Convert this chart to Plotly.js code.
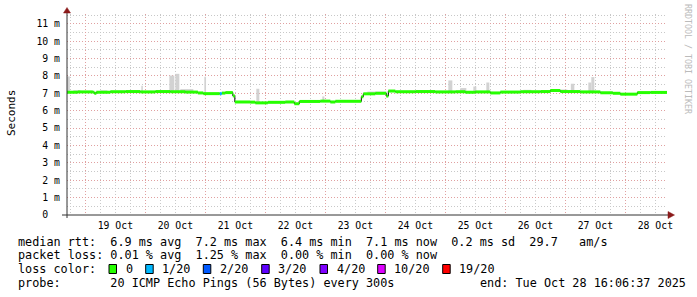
<!DOCTYPE html>
<html>
<head>
<meta charset="utf-8">
<script src="https://cdn.plot.ly/plotly-3.0.1.min.js"></script>
<style>html,body{margin:0;padding:0;background:#fff;}#chart{width:697px;height:297px;}</style>
</head>
<body>
<div id="chart"></div>
<script>
// ---------------- DATA ----------------
const rangeStart = "2025-10-18 16:40";
const rangeEnd = "2025-10-28 16:40";

// median RTT (ms), step function: value holds from time[i] to time[i+1]
const medTimes = [
  "2025-10-18 16:40","2025-10-18 21:00","2025-10-19 03:00","2025-10-19 03:36","2025-10-19 04:24",
  "2025-10-19 10:00","2025-10-19 16:00","2025-10-19 22:00","2025-10-20 04:00","2025-10-20 10:00",
  "2025-10-20 16:00","2025-10-20 21:00","2025-10-20 23:12","2025-10-21 05:48","2025-10-21 06:36",
  "2025-10-21 08:00","2025-10-21 11:00","2025-10-21 11:48","2025-10-21 18:00","2025-10-21 20:00",
  "2025-10-22 01:00","2025-10-22 08:00","2025-10-22 11:36","2025-10-22 13:36","2025-10-22 22:00",
  "2025-10-23 02:00","2025-10-23 04:00","2025-10-23 14:24","2025-10-23 15:12","2025-10-23 20:00",
  "2025-10-24 00:24","2025-10-24 01:12","2025-10-24 04:00","2025-10-24 12:00","2025-10-24 20:00",
  "2025-10-25 04:00","2025-10-25 08:00","2025-10-25 12:00","2025-10-25 18:00","2025-10-25 22:00",
  "2025-10-26 06:00","2025-10-26 14:00","2025-10-26 18:00","2025-10-26 22:00","2025-10-27 06:00",
  "2025-10-27 14:00","2025-10-27 19:00","2025-10-27 22:00","2025-10-28 04:48","2025-10-28 10:00",
  "2025-10-28 16:40"
];
const medVals = [
  7.06,7.08,7.06,7.00,7.06,
  7.09,7.10,7.08,7.10,7.09,
  7.07,7.02,6.98,6.98,7.01,
  7.04,6.85,6.50,6.49,6.45,
  6.48,6.50,6.40,6.53,6.55,
  6.50,6.54,6.80,6.97,7.00,
  6.84,7.13,7.09,7.10,7.08,
  7.09,7.06,7.08,7.02,7.07,
  7.09,7.10,7.16,7.10,7.08,
  7.03,7.00,6.95,7.04,7.05,
  7.05
];
// packet loss count (out of 20) for each step
const medLoss = [
  0,0,0,0,0, 0,0,0,0,0, 0,0,0,1,0, 0,0,0,0,0, 0,0,0,0,0,
  0,0,0,0,0, 0,0,0,0,0, 0,0,0,0,0, 0,0,0,0,0, 0,0,0,0,0, 0
];

// smoke (ping spread) blocks
const smokeFrom = [
  "2025-10-18 16:40","2025-10-18 19:12","2025-10-19 06:00","2025-10-19 22:24","2025-10-20 09:36",
  "2025-10-20 12:00","2025-10-20 14:00","2025-10-20 23:36","2025-10-21 20:24","2025-10-22 22:48",
  "2025-10-23 16:48","2025-10-25 01:12","2025-10-25 06:00","2025-10-25 11:12","2025-10-25 16:24",
  "2025-10-26 07:12","2025-10-26 22:00","2025-10-27 02:12","2025-10-27 09:12","2025-10-27 10:24"
];
const smokeTo = [
  "2025-10-18 17:48","2025-10-18 22:00","2025-10-19 08:48","2025-10-19 23:00","2025-10-20 11:36",
  "2025-10-20 13:36","2025-10-20 19:12","2025-10-21 00:17","2025-10-21 21:36","2025-10-22 23:36",
  "2025-10-24 00:24","2025-10-25 02:48","2025-10-25 08:24","2025-10-25 12:24","2025-10-25 17:36",
  "2025-10-26 10:24","2025-10-27 00:48","2025-10-27 03:36","2025-10-27 10:24","2025-10-27 11:36"
];
const smokeLow = [
  7.00,7.02,7.03,7.03,7.04,
  7.04,7.04,6.96,6.43,6.53,
  6.95,7.05,7.04,7.05,7.05,
  7.05,7.06,7.04,7.03,7.03
];
const smokeHigh = [
  7.97,7.18,7.17,7.43,8.02,
  8.12,7.24,7.95,7.26,6.82,
  7.10,7.74,7.30,7.39,7.62,
  7.20,7.22,7.55,7.62,7.93
];

const yTickVals = [0,1,2,3,4,5,6,7,8,9,10,11];
const yTickText = ["0\u00a0\u00a0","1 m","2 m","3 m","4 m","5 m","6 m","7 m","8 m","9 m","10 m","11 m"];

const lossLabels = ["0","1/20","2/20","3/20","4/20","10/20","19/20"];
const lossLevels = [0,1,2,3,4,10,19];
const lossColors = ["#26ff00","#00b8ff","#0059ff","#5e00ff","#7e00ff","#dd00ff","#ff0000"];

const statLines = [
  "median rtt:  6.9 ms avg  7.2 ms max  6.4 ms min  7.1 ms now  0.2 ms sd  29.7   am/s",
  "packet loss: 0.01 % avg  1.25 % max  0.00 % min  0.00 % now",
  "loss color:",
  "probe:       20 ICMP Echo Pings (56 Bytes) every 300s"
];
const endText = "end: Tue Oct 28 16:06:37 2025";

// ---------------- BUILD ----------------
const toMs = s => Date.parse(s.replace(" ", "T") + ":00Z");
const nb = s => s.replace(/ /g, "\u00a0");

// pixel -> paper helpers (plot area x 67..667, y 14..215)
const PL = 67, PW = 600, PB = 215, PH = 201;
const px = x => (x - PL) / PW;
const py = y => (PB - y) / PH;

const traces = [];

// smoke bars
traces.push({
  type: "bar",
  x: smokeFrom.map((f, i) => (toMs(f) + toMs(smokeTo[i])) / 2),
  width: smokeFrom.map((f, i) => toMs(smokeTo[i]) - toMs(f)),
  base: smokeLow,
  y: smokeHigh.map((h, i) => h - smokeLow[i]),
  marker: {color: "#d2d2d2", line: {width: 0}},
  hoverinfo: "skip",
  showlegend: false
});

// black step connector
traces.push({
  type: "scatter", mode: "lines",
  x: medTimes, y: medVals,
  line: {shape: "hv", color: "#000000", width: 1},
  hoverinfo: "skip", showlegend: false
});

// colored horizontal segments per loss level
lossLevels.forEach((lvl, k) => {
  const xs = [], ys = [];
  for (let i = 0; i < medTimes.length - 1; i++) {
    if (medLoss[i] === lvl) {
      xs.push(medTimes[i], medTimes[i + 1], null);
      ys.push(medVals[i], medVals[i], null);
    }
  }
  if (xs.length) {
    traces.push({
      type: "scatter", mode: "lines",
      x: xs, y: ys, connectgaps: false,
      line: {color: lossColors[k], width: 3},
      hoverinfo: "skip", showlegend: false
    });
  }
});

const mono = "DejaVu Sans Mono";
const annotations = [];
const statY = [241.8, 255.3, 269.0, 282.7];
statLines.forEach((t, i) => {
  annotations.push({
    xref: "paper", yref: "paper", x: px(16), y: py(statY[i]),
    xanchor: "left", yanchor: "middle", showarrow: false,
    text: nb(t), font: {family: mono, size: 11.8, color: "#000"}
  });
});
annotations.push({
  xref: "paper", yref: "paper", x: px(478), y: py(statY[3]),
  xanchor: "left", yanchor: "middle", showarrow: false,
  text: nb(endText), font: {family: mono, size: 11.8, color: "#000"}
});

const boxLeft = [109, 145.7, 203.3, 261.7, 320, 377.7, 442.7];
const shapes = [];
lossLabels.forEach((lab, i) => {
  shapes.push({
    type: "rect", xref: "paper", yref: "paper",
    x0: px(boxLeft[i]), x1: px(boxLeft[i] + 7.5),
    y0: py(273.5), y1: py(264.5),
    fillcolor: lossColors[i], line: {color: "#000", width: 1}
  });
  annotations.push({
    xref: "paper", yref: "paper", x: px(boxLeft[i] + 14.5), y: py(statY[2]),
    xanchor: "left", yanchor: "middle", showarrow: false,
    text: nb(lab), font: {family: mono, size: 11.8, color: "#000"}
  });
});

// y axis title
annotations.push({
  xref: "paper", yref: "paper", x: px(11), y: py(113),
  xanchor: "center", yanchor: "middle", showarrow: false, textangle: -90,
  text: "Seconds", font: {family: mono, size: 11, color: "#000"}
});
// watermark
annotations.push({
  xref: "paper", yref: "paper", x: px(688), y: py(59),
  xanchor: "center", yanchor: "middle", showarrow: false, textangle: 90,
  text: nb("RRDTOOL / TOBI OETIKER"), font: {family: mono, size: 8.3, color: "#bbbbbb"}
});

// axis extensions and arrows
const axisCol = "#333333", arrowCol = "#8b1a1a";
shapes.push({type: "line", xref: "paper", yref: "paper", x0: px(67), x1: px(67), y0: py(218), y1: py(11), line: {color: axisCol, width: 1}});
shapes.push({type: "line", xref: "paper", yref: "paper", x0: px(62), x1: px(670), y0: py(215), y1: py(215), line: {color: axisCol, width: 1}});
shapes.push({type: "path", xref: "paper", yref: "paper",
  path: `M ${px(63.5)} ${py(13)} L ${px(70.5)} ${py(13)} L ${px(67)} ${py(7.5)} Z`,
  fillcolor: arrowCol, line: {color: arrowCol, width: 0.5}});
shapes.push({type: "path", xref: "paper", yref: "paper",
  path: `M ${px(668)} ${py(211.5)} L ${px(668)} ${py(218.5)} L ${px(674.5)} ${py(215)} Z`,
  fillcolor: arrowCol, line: {color: arrowCol, width: 0.5}});

const majorGrid = "#e0a0a0", minorGrid = "#c8c8c8";

const layout = {
  width: 697, height: 297,
  margin: {l: 67, r: 30, t: 14, b: 82, pad: 0},
  paper_bgcolor: "#ffffff", plot_bgcolor: "#ffffff",
  showlegend: false,
  barmode: "overlay",
  xaxis: {
    type: "date", range: [rangeStart, rangeEnd], fixedrange: true,
    tick0: "2025-10-19", dtick: 86400000, ticklabelmode: "period",
    tickformat: "%d %b",
    tickfont: {family: mono, size: 9.8, color: "#000"},
    ticks: "", ticklabelstandoff: 3, showline: false, zeroline: false,
    showgrid: true, gridcolor: majorGrid, griddash: "1px,2px", gridwidth: 1,
    minor: {dtick: 6 * 3600000, tick0: "2025-10-19", showgrid: true, gridcolor: minorGrid, griddash: "1px,2px", gridwidth: 1, ticks: ""}
  },
  yaxis: {
    range: [0, 11.56], fixedrange: true,
    tickvals: yTickVals, ticktext: yTickText,
    tickfont: {family: mono, size: 9.8, color: "#000"},
    ticks: "", ticklabelstandoff: 6,
    showline: false, zeroline: false,
    showgrid: true, gridcolor: majorGrid, griddash: "1px,2px", gridwidth: 1,
    minor: {dtick: 0.5, tick0: 0, showgrid: true, gridcolor: minorGrid, griddash: "1px,2px", gridwidth: 1, ticks: ""}
  },
  shapes: shapes,
  annotations: annotations
};

Plotly.newPlot("chart", traces, layout, {staticPlot: true, displayModeBar: false});
</script>
</body>
</html>
